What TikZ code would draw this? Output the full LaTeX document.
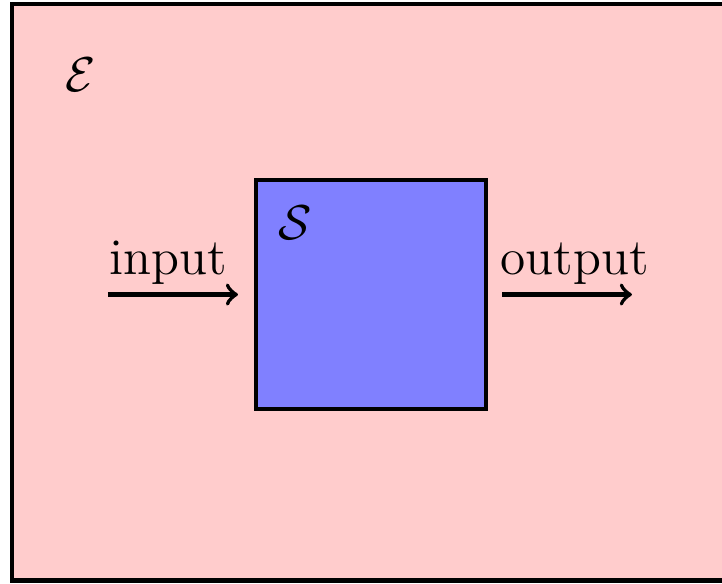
\documentclass[tikz,border=0pt]{standalone}
\usepackage{amsmath,amssymb}
\usetikzlibrary{arrows.meta,positioning,calc}

\begin{document}
\begin{tikzpicture}[>=to,font=\fontsize{12.6}{15}\selectfont,env/.style={draw,line width=1pt,fill=red!20,inner sep=0pt},sysbox/.style={draw,line width=1pt,fill=blue!50,minimum size=1.98cm,inner sep=0pt},lbl/.style={anchor=south west,inner sep=0pt,yshift=0.7mm},sig/.style={->,line width=1pt}]
\useasboundingbox (0,0) rectangle (6.224,5.026);
\clip (0,0) rectangle (6.224,5.026);
\node[env,anchor=south west,minimum width=7cm,minimum height=4.97cm] (env) at (0.086,0.004) {};
\node (envname) at (0.698,4.379) {$\mathcal{E}$};
\node[sysbox] (sys) at (3.198,2.487) {};
\node (sysname) at ($(sys.north west)+(0.353,-0.392)$) {$\mathcal{S}$};
% free ends of the signals
\coordinate (inS) at ($(sys.west)+(-1.26,0)$);
\coordinate (inE) at ($(sys.west)+(-0.139,0)$);
\coordinate (outS) at ($(sys.east)+(0.122,0)$);
\coordinate (outE) at ($(sys.east)+(1.242,0)$);
\draw[sig] (inS)--(inE) node[lbl,pos=0] (inlbl) {input};
\draw[sig] (outS)--(outE) node[lbl,pos=0,xshift=-0.3mm] (outlbl) {output};
\end{tikzpicture}
\end{document}
